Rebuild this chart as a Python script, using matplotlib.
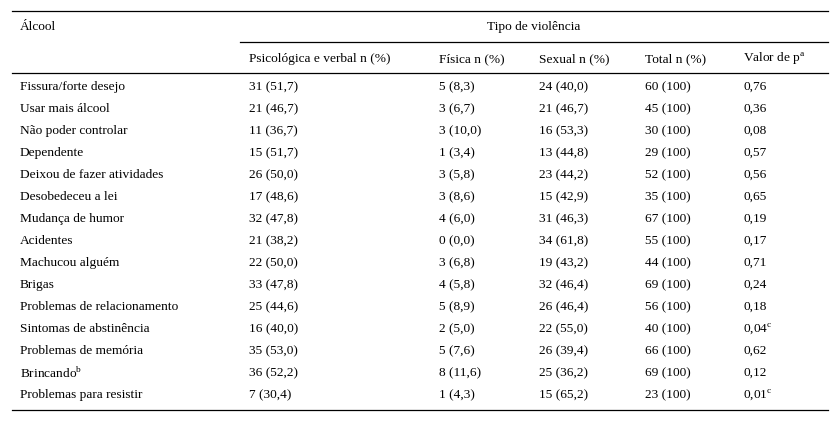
import matplotlib
matplotlib.use("Agg")
import matplotlib.pyplot as plt

plt.rcParams["font.family"] = "Liberation Serif"
plt.rcParams["mathtext.fontset"] = "custom"
plt.rcParams["mathtext.rm"] = "Liberation Serif"

categories = ["Fissura/forte desejo", "Usar mais álcool", "Não poder controlar", "Dependente",
              "Deixou de fazer atividades", "Desobedeceu a lei", "Mudança de humor", "Acidentes",
              "Machucou alguém", "Brigas", "Problemas de relacionamento", "Sintomas de abstinência",
              "Problemas de memória", "Brincando$^{\\mathrm{b}}$", "Problemas para resistir"]
psicologica = ["31 (51,7)", "21 (46,7)", "11 (36,7)", "15 (51,7)", "26 (50,0)", "17 (48,6)", "32 (47,8)",
               "21 (38,2)", "22 (50,0)", "33 (47,8)", "25 (44,6)", "16 (40,0)", "35 (53,0)", "36 (52,2)", "7 (30,4)"]
fisica = ["5 (8,3)", "3 (6,7)", "3 (10,0)", "1 (3,4)", "3 (5,8)", "3 (8,6)", "4 (6,0)", "0 (0,0)",
          "3 (6,8)", "4 (5,8)", "5 (8,9)", "2 (5,0)", "5 (7,6)", "8 (11,6)", "1 (4,3)"]
sexual = ["24 (40,0)", "21 (46,7)", "16 (53,3)", "13 (44,8)", "23 (44,2)", "15 (42,9)", "31 (46,3)",
          "34 (61,8)", "19 (43,2)", "32 (46,4)", "26 (46,4)", "22 (55,0)", "26 (39,4)", "25 (36,2)", "15 (65,2)"]
total = ["60 (100)", "45 (100)", "30 (100)", "29 (100)", "52 (100)", "35 (100)", "67 (100)", "55 (100)",
         "44 (100)", "69 (100)", "56 (100)", "40 (100)", "66 (100)", "69 (100)", "23 (100)"]
pvalor = ["0,76", "0,36", "0,08", "0,57", "0,56", "0,65", "0,19", "0,17", "0,71", "0,24", "0,18",
          "0,04$^{\\mathrm{c}}$", "0,62", "0,12", "0,01$^{\\mathrm{c}}$"]
headers = ["Psicológica e verbal n (%)", "Física n (%)", "Sexual n (%)", "Total n (%)", "Valor de p$^{\\mathrm{a}}$"]

W, H = 840, 423
fig = plt.figure(figsize=(8.4, 4.23), dpi=100)
ax = fig.add_axes([0, 0, 1, 1])
ax.set_xlim(0, W); ax.set_ylim(H, 0); ax.axis("off")

fs = 9.6
colx = [20, 249, 439, 539, 645, 743]
ax.plot([12, 828], [11, 11], color="black", lw=0.9)
ax.plot([240, 828], [42, 42], color="black", lw=0.9)
ax.plot([12, 828], [73, 73], color="black", lw=0.9)
ax.plot([12, 828], [410, 410], color="black", lw=0.9)
ax.text(20, 27, "Álcool", fontsize=fs, va="center")
ax.text(534, 27, "Tipo de violência", fontsize=fs, va="center", ha="center")
for x, h in zip(colx[1:], headers):
    ax.text(x, 59, h, fontsize=fs, va="center")
cols = [categories, psicologica, fisica, sexual, total, pvalor]
for i in range(len(categories)):
    y = 87 + i * 22
    for x, c in zip(colx, cols):
        ax.text(x, y, c[i], fontsize=fs, va="center")
fig.savefig("out.png", dpi=100)
